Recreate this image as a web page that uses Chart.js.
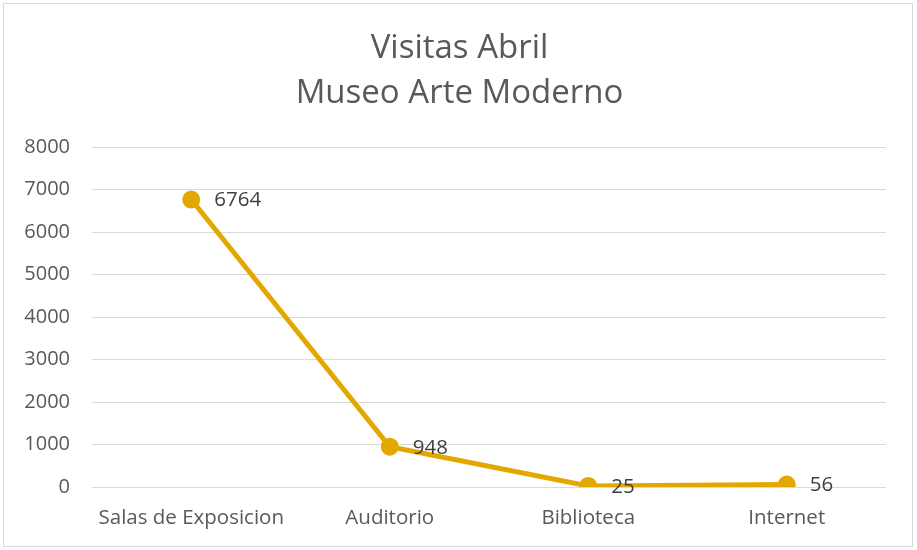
<!DOCTYPE html>
<html>
<head>
<meta charset="utf-8">
<script src="https://cdn.jsdelivr.net/npm/chart.js@4/dist/chart.umd.min.js"></script>
<style>
html,body{margin:0;padding:0;background:#fff;}
#wrap{width:917px;height:550px;position:relative;}
</style>
</head>
<body>
<div id="wrap"><canvas id="c" width="917" height="550"></canvas></div>
<script>
const categories = ['Salas de Exposicion', 'Auditorio', 'Biblioteca', 'Internet'];
const visitas = [6764, 948, 25, 56];
const titleLines = ['Visitas Abril', 'Museo Arte Moderno'];
const yMin = 0, yMax = 8000, yStep = 1000;

const FONT = '"Open Sans", Lato, sans-serif';
const lineColor = '#E3A800';

const borderPlugin = {
  id: 'frame',
  afterDraw(chart) {
    const ctx = chart.ctx;
    ctx.save();
    ctx.strokeStyle = '#d9d9d9';
    ctx.lineWidth = 1;
    ctx.strokeRect(3.5, 3.5, 909, 543);
    ctx.restore();
  }
};

const labelPlugin = {
  id: 'dataLabels',
  afterDatasetsDraw(chart) {
    const ctx = chart.ctx;
    const meta = chart.getDatasetMeta(0);
    ctx.save();
    ctx.font = '20.5px ' + FONT;
    ctx.fillStyle = '#404040';
    ctx.textAlign = 'left';
    ctx.textBaseline = 'middle';
    meta.data.forEach((pt, i) => {
      ctx.fillText(String(chart.data.datasets[0].data[i]), pt.x + 23, pt.y + 1);
    });
    ctx.restore();
  }
};

new Chart(document.getElementById('c'), {
  type: 'line',
  data: {
    labels: categories,
    datasets: [{
      data: visitas,
      borderColor: lineColor,
      backgroundColor: lineColor,
      borderWidth: 5,
      pointRadius: 6.5,
      pointHoverRadius: 6.5,
      pointBackgroundColor: lineColor,
      pointBorderColor: lineColor,
      tension: 0
    }]
  },
  options: {
    responsive: false,
    animation: false,
    layout: { padding: { left: 2, right: 0, top: 0, bottom: 0 } },
    plugins: {
      legend: { display: false },
      tooltip: { enabled: false },
      title: {
        display: true,
        text: titleLines,
        color: '#595959',
        font: { family: FONT, size: 33, weight: 'normal', lineHeight: 1.364 },
        padding: { top: 26, bottom: 31 }
      }
    },
    scales: {
      x: {
        type: 'category',
        offset: true,
        grid: { display: false, drawTicks: false },
        border: { display: false },
        ticks: { color: '#595959', font: { family: FONT, size: 20.5 }, padding: 19, maxRotation: 0 },
        afterFit(scale) { scale.height = 63; }
      },
      y: {
        min: yMin, max: yMax,
        grid: { color: '#d9d9d9', lineWidth: 1, drawTicks: false },
        border: { display: false },
        ticks: { stepSize: yStep, color: '#595959', font: { family: FONT, size: 20 }, padding: 22,
                 callback: (v) => String(v) },
        afterFit(scale) { scale.width = 90; }
      },
      yPad: {
        position: 'right',
        min: yMin, max: yMax,
        grid: { display: false, drawTicks: false },
        border: { display: false },
        ticks: { display: false },
        afterFit(scale) { scale.width = 31; }
      }
    }
  },
  plugins: [borderPlugin, labelPlugin]
});
</script>
</body>
</html>
